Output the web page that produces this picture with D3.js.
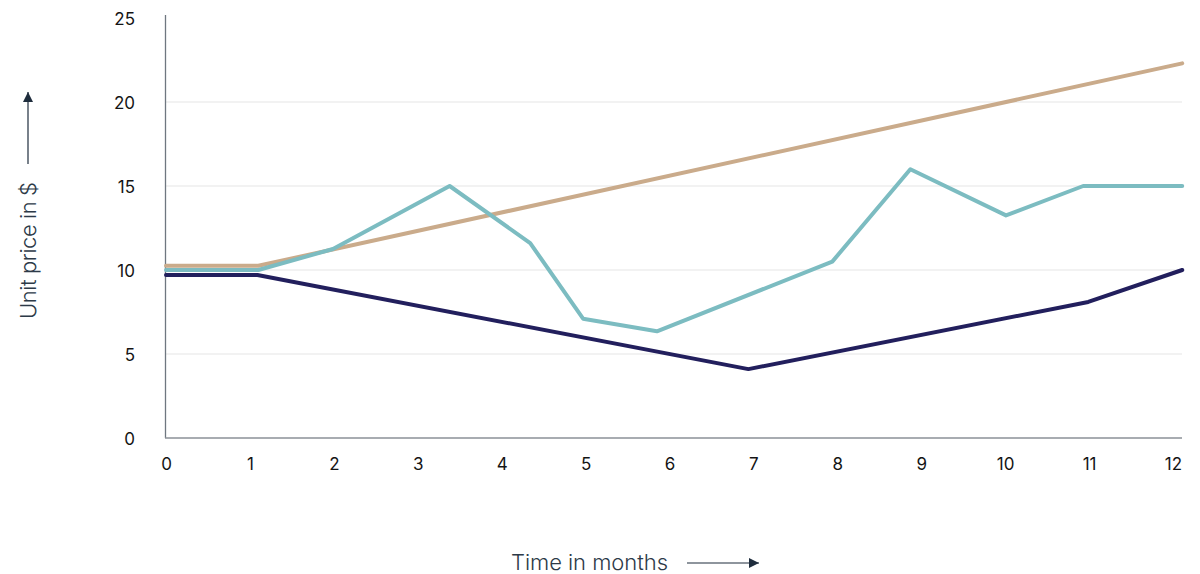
<!DOCTYPE html>
<html>
<head>
<meta charset="utf-8">
<script src="https://cdn.jsdelivr.net/npm/d3@7"></script>
<style>
  html, body { margin: 0; padding: 0; background: #ffffff; }
  svg { display: block; }
</style>
</head>
<body>
<div id="chart"></div>
<script>
// Month ticks along the time axis and price ticks along the value axis
const monthTicks = [0, 1, 2, 3, 4, 5, 6, 7, 8, 9, 10, 11, 12];
const priceTicks = [0, 5, 10, 15, 20, 25];

// Price paths: [month, unit price in $]
const steadyRise = [[0, 10.25], [1.1, 10.25], [12.11, 22.3]];
const volatile = [
  [0, 10.0], [1.1, 10.0], [1.99, 11.25], [3.38, 15.0], [4.34, 11.6], [4.97, 7.1],
  [5.85, 6.35], [7.94, 10.5], [8.87, 16.0], [10.01, 13.25],
  [10.93, 15.0], [12.11, 15.0]
];
const dipAndRecover = [[0, 9.7], [1.09, 9.7], [6.94, 4.1], [10.99, 8.1], [12.11, 10.0]];

const series = [
  { name: "steadyRise", values: steadyRise, color: "#caab8b" },
  { name: "volatile", values: volatile, color: "#7cbcc1" },
  { name: "dipAndRecover", values: dipAndRecover, color: "#221f5d" }
];

const W = 1200, H = 574;
const x0 = 166, x12 = 1173;
const axisRight = 1182;

const x = d3.scaleLinear().domain([0, 12]).range([x0, x12]);
const y = d3.scaleLinear().domain([0, 25]).range([438, 18]);

const svg = d3.select("#chart").append("svg")
  .attr("width", W).attr("height", H);

// Horizontal gridlines
svg.append("g").selectAll("line")
  .data(priceTicks.filter(d => d > 0 && d < 25))
  .join("line")
  .attr("x1", 165).attr("x2", axisRight)
  .attr("y1", d => y(d)).attr("y2", d => y(d))
  .attr("stroke", "#e5e5e5").attr("stroke-width", 1.2);

// Axis lines
svg.append("line")
  .attr("x1", 165.5).attr("x2", 165.5)
  .attr("y1", 15).attr("y2", y(0))
  .attr("stroke", "#6f7780").attr("stroke-width", 1.3);
svg.append("line")
  .attr("x1", 165).attr("x2", axisRight)
  .attr("y1", y(0)).attr("y2", y(0))
  .attr("stroke", "#8b9097").attr("stroke-width", 1.6);

const tickFont = "Inter, 'Liberation Sans', Arial, sans-serif";

// Value axis labels
const yAxis = d3.axisLeft(y).tickValues(priceTicks).tickSize(0).tickPadding(0);
const gy = svg.append("g").attr("transform", "translate(135,0)").call(yAxis);
gy.select(".domain").remove();
gy.selectAll("text")
  .attr("font-family", tickFont)
  .attr("font-size", 17).attr("fill", "#141414")
  .attr("dy", "0.36em");

// Time axis labels
const xAxis = d3.axisBottom(x).tickValues(monthTicks).tickSize(0).tickPadding(0);
const gx = svg.append("g").attr("transform", "translate(0,458)").call(xAxis);
gx.select(".domain").remove();
gx.selectAll("text")
  .attr("font-family", tickFont)
  .attr("font-size", 17).attr("fill", "#141414");

// Price lines
const line = d3.line().x(d => x(d[0])).y(d => y(d[1]));
svg.append("g").selectAll("path")
  .data(series)
  .join("path")
  .attr("d", d => line(d.values))
  .attr("fill", "none")
  .attr("stroke", d => d.color)
  .attr("stroke-width", 4)
  .attr("stroke-linejoin", "round")
  .attr("stroke-linecap", "round");

// Arrowheads for axis titles
const defs = svg.append("defs");
defs.append("marker")
  .attr("id", "arrowhead")
  .attr("viewBox", "0 0 10 10")
  .attr("refX", 10).attr("refY", 5)
  .attr("markerWidth", 12).attr("markerHeight", 10)
  .attr("markerUnits", "userSpaceOnUse")
  .attr("orient", "auto")
  .append("path").attr("d", "M0,0 L10,5 L0,10 Z").attr("fill", "#1f2d3d");

const titleColor = "#2d3a48";

// Time axis title
svg.append("text")
  .attr("x", 511).attr("y", 570)
  .attr("font-family", "Inter, 'Open Sans', sans-serif")
  .attr("font-weight", 300)
  .attr("font-size", 22)
  .attr("fill", titleColor)
  .attr("textLength", 157)
  .text("Time in months");
svg.append("line")
  .attr("x1", 687).attr("x2", 759)
  .attr("y1", 563).attr("y2", 563)
  .attr("stroke", "#1f2d3d").attr("stroke-width", 1.2)
  .attr("marker-end", "url(#arrowhead)");

// Value axis title
svg.append("text")
  .attr("transform", "translate(36,319) rotate(-90)")
  .attr("font-family", "Inter, 'Open Sans', sans-serif")
  .attr("font-weight", 300)
  .attr("font-size", 22)
  .attr("fill", titleColor)
  .attr("textLength", 137)
  .text("Unit price in $");
svg.append("line")
  .attr("x1", 28).attr("x2", 28)
  .attr("y1", 164).attr("y2", 92)
  .attr("stroke", "#1f2d3d").attr("stroke-width", 1.2)
  .attr("marker-end", "url(#arrowhead)");
</script>
</body>
</html>
